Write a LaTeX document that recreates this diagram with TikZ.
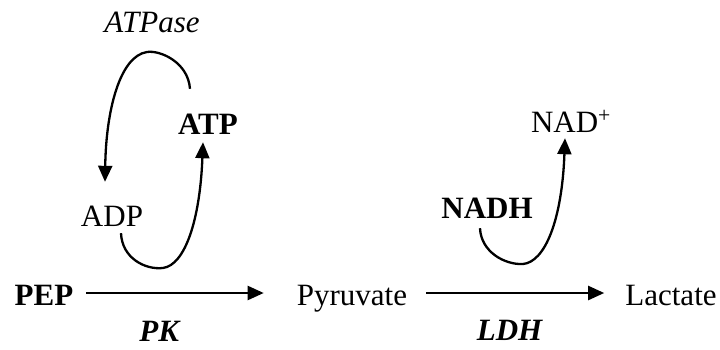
\documentclass[tikz,border=0pt]{standalone}
\usepackage{fontspec}
\setmainfont{Liberation Serif}
\usetikzlibrary{arrows.meta}
\begin{document}
\begin{tikzpicture}[x=1pt,y=-1pt,
  lbl/.style={inner sep=0pt, text height=22pt, text depth=7pt, anchor=base,
    font=\fontsize{31}{36}\selectfont},
  arr/.style={line width=2.3pt, -{Triangle[length=16pt,width=14pt]}}]
\useasboundingbox (0,0) rectangle (720,350);
% nodes
\node[lbl] (atpase) at (152,33) {\textit{ATPase}};
\node[lbl] (atp) at (208,135) {\textbf{ATP}};
\node[lbl] (adp) at (112,226) {ADP};
\node[lbl] (pep) at (44,305) {\textbf{PEP}};
\node[lbl, text depth=2pt] (pk) at (160,341) {\textbf{\textit{PK}}};
\node[lbl] (pyr) at (352,305) {Pyruvate};
\node[lbl] (ldh) at (510,340) {\textbf{\textit{LDH}}};
\node[lbl] (lac) at (671,305) {Lactate};
\node[lbl] (nadh) at (487,218) {\textbf{NADH}};
\node[lbl] (nad) at (571,132) {NAD\textsuperscript{+}};
% main arrows
\draw[arr] ([shift={(13pt,4.5pt)}]pep.east) -- ([shift={(-33pt,4.5pt)}]pyr.west);
\draw[arr] ([shift={(19pt,4.5pt)}]pyr.east) -- ([shift={(-21pt,4.5pt)}]lac.west);
% ADP -> ATP
\draw[arr] ([xshift=9pt]adp.south) .. controls (122,258) and (145,270) .. (163,268)
  .. controls (185,265) and (200,220) .. ([xshift=-5pt]atp.south);
% ATP -> ADP (ATPase)
\draw[arr] ([shift={(-18pt,24pt)}]atp.north) .. controls (188,62) and (160,50) .. (147,52)
  .. controls (120,56) and (106,110) .. ([shift={(-7pt,22pt)}]adp.north);
% NADH -> NAD+
\draw[arr] ([shift={(-7pt,-3pt)}]nadh.south) .. controls (481,252) and (505,265) .. (523,264)
  .. controls (545,262) and (562,220) .. ([shift={(-6pt,1pt)}]nad.south);
\end{tikzpicture}
\end{document}
